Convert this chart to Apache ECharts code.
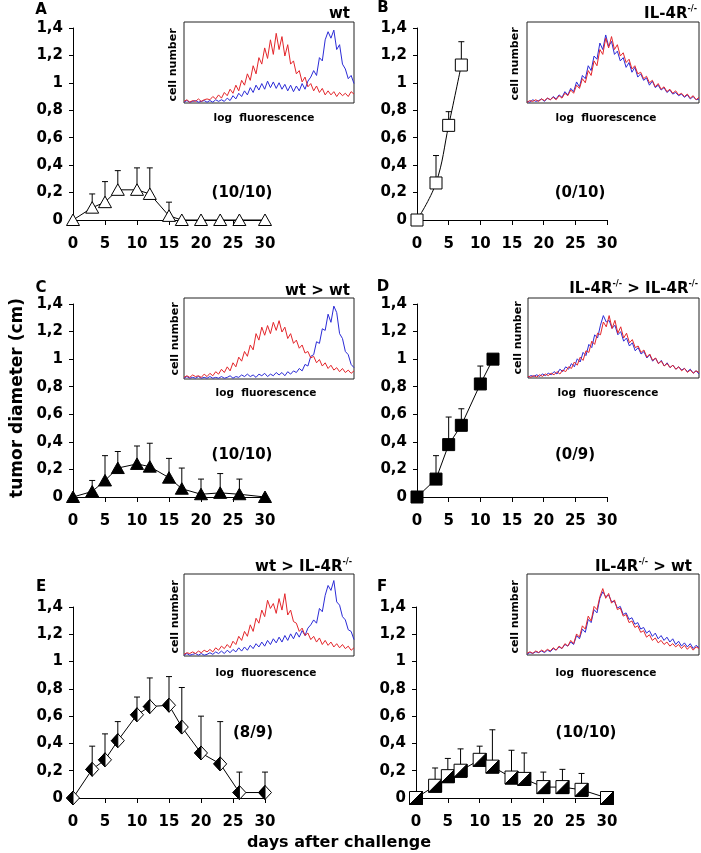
<!DOCTYPE html>
<html>
<head>
<meta charset="utf-8">
<script src="https://cdn.jsdelivr.net/npm/echarts@6.0.0/dist/echarts.min.js"></script>
<style>
  html, body { margin: 0; padding: 0; background: #fff; }
  #main { width: 701px; height: 853px; }
</style>
</head>
<body>
<div id="main"></div>
<script>
var FONT = 'DejaVu Sans';

// tumor growth: days after challenge, mean diameter (cm), SD
var daysA = [0, 3, 5, 7, 10, 12, 15, 17, 20, 23, 26, 30];
var meanA = [0, 0.09, 0.13, 0.22, 0.22, 0.19, 0.03, 0, 0, 0, 0, 0];
var sdA   = [0, 0.10, 0.15, 0.14, 0.16, 0.19, 0.10, 0, 0, 0, 0, 0];

var daysB = [0, 3, 5, 7];
var meanB = [0, 0.27, 0.69, 1.13];
var sdB   = [0, 0.20, 0.10, 0.17];

var daysC = [0, 3, 5, 7, 10, 12, 15, 17, 20, 23, 26, 30];
var meanC = [0, 0.04, 0.12, 0.21, 0.24, 0.22, 0.14, 0.06, 0.02, 0.03, 0.02, 0];
var sdC   = [0, 0.08, 0.18, 0.12, 0.13, 0.17, 0.14, 0.15, 0.11, 0.14, 0.11, 0];

var daysD = [0, 3, 5, 7, 10, 12];
var meanD = [0, 0.13, 0.38, 0.52, 0.82, 1.0];
var sdD   = [0, 0.17, 0.20, 0.12, 0.13, 0];

var daysE = [0, 3, 5, 7, 10, 12, 15, 17, 20, 23, 26, 30];
var meanE = [0, 0.21, 0.28, 0.42, 0.61, 0.67, 0.68, 0.52, 0.33, 0.25, 0.04, 0.04];
var sdE   = [0, 0.17, 0.19, 0.14, 0.13, 0.21, 0.21, 0.29, 0.27, 0.31, 0.15, 0.15];

var daysF = [0, 3, 5, 7, 10, 12, 15, 17, 20, 23, 26, 30];
var meanF = [0, 0.09, 0.16, 0.2, 0.28, 0.23, 0.15, 0.14, 0.08, 0.08, 0.06, 0];
var sdF   = [0, 0.13, 0.13, 0.16, 0.10, 0.27, 0.20, 0.19, 0.11, 0.13, 0.12, 0];

// inset histograms (cell number vs log fluorescence, % of box height)
var histRedA  = [2,4,1,3,2,5,2,4,5, 4,8,5,10,6,13, 9,17,12,22,15,28, 22,36,28,46,36,56, 48,68,55,78,60,86, 66,82,58,72,48,52, 36,40,26,32,20,24, 15,21,13,18,10,15, 10,14,8,13,9,12,8,14,11];
var histBlueA = [1,3,1,2,3,1,2,3,1, 3,1,4,2,4,2, 6,3,9,5,12,8, 15,10,19,13,22,16, 24,17,27,19,26,18, 25,17,23,15,22,14, 21,15,24,17,27,32, 40,34,56,52,78,88, 80,90,66,72,48,42,30,34,24];
var histRedB  = [1,3,2,4,2,5,3,6,4, 7,4,9,6,12,9, 16,12,22,18,30,25, 40,34,52,46,66,60, 80,68,82,66,72,58, 62,50,54,42,46,36, 38,30,33,25,28,20, 24,17,20,14,17,12, 15,10,12,8,11,6,9,4,7];
var histBlueB = [2,1,4,2,3,5,2,6,4, 8,5,10,7,14,10, 18,14,26,20,34,30, 46,40,58,54,74,66, 84,70,76,60,64,52, 56,44,50,38,44,32, 36,28,31,22,27,19, 22,16,19,13,16,11, 13,9,11,7,10,5,8,4,5];
var histRedC  = [2,4,2,5,3,4,2,6,3, 7,4,9,6,12,8, 15,10,20,15,27,22, 34,28,42,36,56,48, 64,54,66,56,70,60, 72,58,64,50,56,44, 48,38,42,32,34,26, 28,20,24,16,20,13, 17,11,14,9,13,8,11,7,10];
var histBlueC = [1,3,1,2,1,3,1,2,1, 3,1,2,1,3,1, 2,4,1,3,2,5, 3,6,3,5,2,6, 4,7,3,6,4,8, 5,8,4,9,6,10, 8,13,10,18,16,28, 30,46,44,62,60,80, 70,90,82,56,50,34,30,18,14];
var histRedD  = [2,1,3,1,4,2,5,3,6, 4,8,5,10,8,14, 12,20,16,26,22,34, 32,46,42,56,54,70, 64,78,62,72,56,64, 50,56,44,48,38,40, 32,35,26,30,22,25, 18,21,15,18,13,16, 11,14,9,12,7,10,6,9,7];
var histBlueD = [1,3,2,4,2,5,3,6,4, 8,5,11,8,14,11, 18,14,24,20,32,28, 42,38,54,50,66,78, 70,72,62,66,54,58, 46,50,40,44,34,38, 30,33,25,29,21,25, 18,22,15,19,13,16, 11,14,10,12,8,11,6,9,5];
var histRedE  = [2,4,3,5,3,6,4,7,5, 8,5,10,7,12,9, 14,10,18,14,24,19, 30,24,38,30,46,40, 56,48,68,58,64,52, 70,56,76,50,56,42, 40,30,34,25,28,20, 24,17,22,14,19,13, 17,11,15,10,14,9,12,7,10];
var histBlueE = [1,3,1,2,3,1,3,1,2, 4,2,5,3,6,3, 7,4,8,5,10,6, 11,7,13,9,15,11, 17,12,19,14,21,16, 23,17,25,19,27,21, 29,23,31,25,34,38, 44,40,58,54,74,86, 80,92,66,62,48,44,32,30,20];
var histRedF  = [2,4,2,5,3,6,4,7,5, 9,6,11,8,14,11, 18,14,26,22,36,32, 48,42,60,56,72,82, 70,76,64,68,56,58, 48,50,40,42,34,36, 28,30,22,25,18,21, 15,18,13,16,11,14, 10,13,8,12,7,11,6,10,8];
var histBlueF = [1,3,2,4,3,5,3,6,4, 8,6,10,8,13,11, 16,13,24,20,32,28, 44,40,56,52,70,78, 72,74,66,66,58,60, 50,52,44,46,38,40, 32,34,27,30,23,27, 20,24,18,22,16,20, 13,17,11,15,10,14,8,12,9];

var panels = [
  { days: daysA, mean: meanA, sd: sdA, mark: 'triOpen', smooth: false, red: histRedA, blue: histBlueA,
    grid: { left: 73, top: 28, width: 192, height: 192 }, inset: { left: 184, top: 22, width: 170, height: 81 } },
  { days: daysB, mean: meanB, sd: sdB, mark: 'sqOpen', smooth: 0.4, red: histRedB, blue: histBlueB,
    grid: { left: 417, top: 28, width: 190, height: 192 }, inset: { left: 527, top: 22, width: 172, height: 81 } },
  { days: daysC, mean: meanC, sd: sdC, mark: 'triFill', smooth: false, red: histRedC, blue: histBlueC,
    grid: { left: 73, top: 304, width: 192, height: 193 }, inset: { left: 184, top: 298, width: 170, height: 81 } },
  { days: daysD, mean: meanD, sd: sdD, mark: 'sqFill', smooth: false, red: histRedD, blue: histBlueD,
    grid: { left: 417, top: 304, width: 190, height: 193 }, inset: { left: 528, top: 298, width: 171, height: 80 } },
  { days: daysE, mean: meanE, sd: sdE, mark: 'diamond', smooth: false, red: histRedE, blue: histBlueE,
    grid: { left: 73, top: 607, width: 192, height: 191 }, inset: { left: 184, top: 574, width: 170, height: 82 } },
  { days: daysF, mean: meanF, sd: sdF, mark: 'sqDiag', smooth: false, red: histRedF, blue: histBlueF,
    grid: { left: 416, top: 607, width: 191, height: 191 }, inset: { left: 527, top: 574, width: 172, height: 81 } }
];

function errorBar(params, api) {
  var sd = api.value(2);
  if (!sd) return null;
  var x = api.value(0), m = api.value(1);
  var lo = api.coord([x, m]);
  var hi = api.coord([x, m + sd]);
  return {
    type: 'group',
    children: [
      { type: 'line', shape: { x1: lo[0], y1: lo[1], x2: hi[0], y2: hi[1] }, style: { stroke: '#000', lineWidth: 1 } },
      { type: 'line', shape: { x1: hi[0] - 3, y1: hi[1], x2: hi[0] + 3, y2: hi[1] }, style: { stroke: '#000', lineWidth: 1 } }
    ]
  };
}

function marker(kind) {
  return function (params, api) {
    var c = api.coord([api.value(0), api.value(1)]);
    var x = c[0], y = c[1];
    if (kind === 'triOpen' || kind === 'triFill') {
      return { type: 'polygon', shape: { points: [[x, y - 6], [x + 6.5, y + 5.5], [x - 6.5, y + 5.5]] },
        style: { fill: kind === 'triFill' ? '#000' : '#fff', stroke: '#000', lineWidth: 1 } };
    }
    if (kind === 'sqOpen' || kind === 'sqFill') {
      return { type: 'rect', shape: { x: x - 6, y: y - 6, width: 12, height: 12 },
        style: { fill: kind === 'sqFill' ? '#000' : '#fff', stroke: '#000', lineWidth: 1 } };
    }
    if (kind === 'diamond') {
      return { type: 'group', children: [
        { type: 'polygon', shape: { points: [[x, y - 7], [x + 6.5, y], [x, y + 7], [x - 6.5, y]] },
          style: { fill: '#fff', stroke: '#000', lineWidth: 1 } },
        { type: 'polygon', shape: { points: [[x, y - 7], [x, y + 7], [x - 6.5, y]] },
          style: { fill: '#000', stroke: '#000', lineWidth: 1 } }
      ] };
    }
    // square split along the diagonal, lower right black
    return { type: 'group', children: [
      { type: 'rect', shape: { x: x - 6.5, y: y - 6.5, width: 13, height: 13 }, style: { fill: '#fff', stroke: '#000', lineWidth: 1 } },
      { type: 'polygon', shape: { points: [[x + 6.5, y - 6.5], [x + 6.5, y + 6.5], [x - 6.5, y + 6.5]] },
        style: { fill: '#000', stroke: '#000', lineWidth: 1 } }
    ] };
  };
}

var labelStyle = { color: '#000', fontFamily: FONT, fontWeight: 'bold', fontSize: 15 };
var grids = [], xAxes = [], yAxes = [], series = [];

panels.forEach(function (p, i) {
  grids.push(p.grid);
  xAxes.push({
    gridIndex: i, type: 'value', min: 0, max: 30, interval: 5,
    axisLine: { show: true, lineStyle: { color: '#000', width: 1 } },
    axisTick: { show: true, length: 5, lineStyle: { color: '#000' } },
    axisLabel: Object.assign({ margin: 17 }, labelStyle),
    splitLine: { show: false }
  });
  yAxes.push({
    gridIndex: i, type: 'value', min: 0, max: 1.4, interval: 0.2,
    axisLine: { show: true, lineStyle: { color: '#000', width: 1 } },
    axisTick: { show: true, length: 4, lineStyle: { color: '#000' } },
    axisLabel: Object.assign({ margin: 10, formatter: function (v) {
      return String(Math.round(v * 10) / 10).replace('.', ',');
    } }, labelStyle),
    splitLine: { show: false }
  });
  var pts = p.days.map(function (d, k) { return [d, p.mean[k], p.sd[k]]; });
  series.push({
    type: 'line', xAxisIndex: i, yAxisIndex: i, silent: true, symbol: 'none', smooth: p.smooth,
    data: pts.map(function (q) { return [q[0], q[1]]; }),
    lineStyle: { color: '#000', width: 1 }, z: 2
  });
  series.push({ type: 'custom', xAxisIndex: i, yAxisIndex: i, silent: true, data: pts, renderItem: errorBar, z: 3 });
  series.push({ type: 'custom', xAxisIndex: i, yAxisIndex: i, silent: true, data: pts, renderItem: marker(p.mark), z: 4 });
});

panels.forEach(function (p, i) {
  var g = 6 + i;
  grids.push(Object.assign({ show: true, borderColor: '#222', borderWidth: 1, backgroundColor: '#fff' }, p.inset));
  xAxes.push({ gridIndex: g, type: 'value', min: 0, max: p.red.length - 1, show: false });
  yAxes.push({ gridIndex: g, type: 'value', min: 0, max: 100, show: false });
  [['blue', '#2b2bd6'], ['red', '#e3262b']].forEach(function (c) {
    series.push({
      type: 'line', xAxisIndex: g, yAxisIndex: g, silent: true, symbol: 'none',
      data: p[c[0]].map(function (v, k) { return [k, v]; }),
      lineStyle: { color: c[1], width: 1 }, z: 5
    });
  });
});

function txt(x, y, text, size, extra) {
  return Object.assign({
    type: 'text', x: x, y: y, z: 10, silent: true,
    style: { text: text, fill: '#000', fontFamily: FONT, fontWeight: 'bold', fontSize: size,
      align: 'center', verticalAlign: 'middle', textAlign: 'center', textVerticalAlign: 'middle' }
  }, extra || {});
}

function title(xRight, y, text) {
  return {
    type: 'text', x: xRight, y: y, z: 10, silent: true,
    style: {
      text: text, fill: '#000', align: 'right', verticalAlign: 'middle', textAlign: 'right', textVerticalAlign: 'middle',
      rich: {
        m: { fontFamily: FONT, fontWeight: 'bold', fontSize: 15, lineHeight: 17, verticalAlign: 'bottom' },
        s: { fontFamily: FONT, fontWeight: 'bold', fontSize: 8, lineHeight: 9, verticalAlign: 'top' }
      }
    }
  };
}

var sup = '{s|-/-}';
var graphics = [
  txt(41, 10, 'A', 15), txt(383, 8, 'B', 15), txt(41, 288, 'C', 15),
  txt(383, 287, 'D', 15), txt(41, 587, 'E', 15), txt(382, 587, 'F', 15),
  title(350, 13, '{m|wt}'),
  title(697, 13, '{m|IL-4R}' + sup),
  title(350, 290, '{m|wt > wt}'),
  title(698, 288, '{m|IL-4R}' + sup + '{m| > IL-4R}' + sup),
  title(352, 566, '{m|wt > IL-4R}' + sup),
  title(692, 566, '{m|IL-4R}' + sup + '{m| > wt}'),
  txt(242, 193, '(10/10)', 15), txt(580, 193, '(0/10)', 15),
  txt(242, 455, '(10/10)', 15), txt(575, 455, '(0/9)', 15),
  txt(253, 733, '(8/9)', 15), txt(586, 733, '(10/10)', 15),
  txt(173, 65, 'cell number', 11, { rotation: Math.PI / 2 }),
  txt(515, 64, 'cell number', 11, { rotation: Math.PI / 2 }),
  txt(175, 339, 'cell number', 11, { rotation: Math.PI / 2 }),
  txt(518, 338, 'cell number', 11, { rotation: Math.PI / 2 }),
  txt(175, 617, 'cell number', 11, { rotation: Math.PI / 2 }),
  txt(515, 617, 'cell number', 11, { rotation: Math.PI / 2 }),
  txt(264, 118, 'log  fluorescence', 10.5), txt(606, 118, 'log  fluorescence', 10.5),
  txt(266, 393, 'log  fluorescence', 10.5), txt(608, 393, 'log  fluorescence', 10.5),
  txt(266, 673, 'log  fluorescence', 10.5), txt(606, 673, 'log  fluorescence', 10.5),
  txt(18, 398, 'tumor diameter (cm)', 17, { rotation: Math.PI / 2 }),
  txt(339, 843, 'days after challenge', 16)
];

var chart = echarts.init(document.getElementById('main'), null, { renderer: 'canvas' });
chart.setOption({
  animation: false,
  backgroundColor: '#fff',
  grid: grids,
  xAxis: xAxes,
  yAxis: yAxes,
  series: series,
  graphic: graphics
});
</script>
</body>
</html>
